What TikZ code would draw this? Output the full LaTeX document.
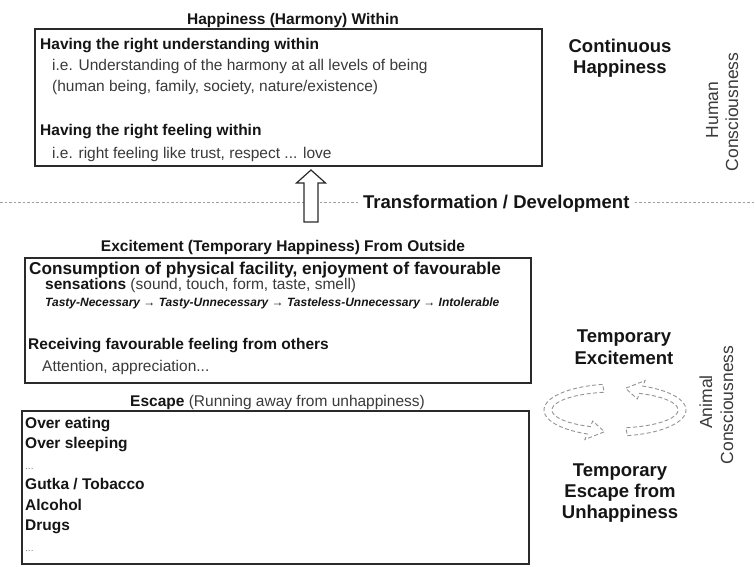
\documentclass[tikz,border=0pt]{standalone}
\usepackage{fontspec}
\setmainfont{Liberation Sans}
\definecolor{boxc}{HTML}{2A2A2A}
\definecolor{txt}{HTML}{151515}
\definecolor{txtb}{HTML}{3A3A3A}
\begin{document}
\begin{tikzpicture}[x=1pt,y=-1pt,
  box/.style={draw=boxc, line width=1.3pt, inner sep=0pt, outer sep=0pt, anchor=north west},
  bt/.style={anchor=base west, inner sep=0pt, text=txt, font=\bfseries\fontsize{15.5}{18}\selectfont},
  rt/.style={anchor=base west, inner sep=0pt, text=txtb, font=\fontsize{15.5}{18}\selectfont},
  head/.style={anchor=base, inner sep=0pt, text=txt, font=\bfseries\fontsize{15.5}{18}\selectfont},
  big/.style={anchor=base, inner sep=0pt, text=txt, font=\bfseries\fontsize{18.5}{21}\selectfont},
  side/.style={anchor=base, inner sep=0pt, rotate=90, text=txtb, font=\fontsize{17.5}{20}\selectfont},
  dots/.style={anchor=base west, inner sep=0pt, text=gray, font=\fontsize{10}{12}\selectfont},
  dsh/.style={draw=gray!75, dash pattern=on 2.5pt off 2pt, line width=0.8pt},
  cyc/.style={draw=gray!85, dash pattern=on 4pt off 2.5pt, line width=0.9pt},
  hollow/.style={draw=boxc, line width=1.2pt, fill=white}
]
\useasboundingbox[fill=white] (0,0) rectangle (755,567);

% dashed separator
\coordinate (dl) at (0,202);
\coordinate (dr) at (755,202);
\draw[dsh] (dl) -- (dr);

% ---------- top box ----------
\node[head] (h1) at (293,25) {Happiness (Harmony) Within};
\node[box, minimum width=507pt, minimum height=137pt] (b1) at (35,29) {};
\node[bt] (u1) at (40,50) {Having the right understanding within};
\node[rt] (u2) at (52,71) {i.e. Understanding of the harmony at all levels of being};
\node[rt] (u3) at (52,92) {(human being, family, society, nature/existence)};
\node[bt] (f1) at (40,136) {Having the right feeling within};
\node[rt] (f2) at (52,158) {i.e. right feeling like trust, respect ... love};

\node[big] (ch1) at (620,53) {Continuous};
\node[big] (ch2) at (620,74) {Happiness};
\node[side] (hc1) at (718,110) {Human};
\node[side] (hc2) at (738,112) {Consciousness};

% transformation arrow
\draw[hollow] (311,170) -- (325.5,183) -- (318,183) -- (318,222) -- (304,222) -- (304,183) -- (296.5,183) -- cycle;
\node[big, anchor=base west, fill=white, inner xsep=5pt, inner ysep=3pt] (tr) at (358,208) {Transformation / Development};

% ---------- middle box ----------
\node[head] (h2) at (283,251) {Excitement (Temporary Happiness) From Outside};
\node[box, minimum width=506pt, minimum height=125pt] (b2) at (25,258) {};
\node[bt, font=\bfseries\fontsize{17.2}{18}\selectfont] (c1) at (29,274) {Consumption of physical facility, enjoyment of favourable};
\node[rt] (c2) at (45,289) {\textbf{\textcolor{txt}{sensations}} (sound, touch, form, taste, smell)};
\node[bt, font=\bfseries\itshape\fontsize{12}{14}\selectfont] (c3) at (45,306) {Tasty-Necessary → Tasty-Unnecessary → Tasteless-Unnecessary → Intolerable};
\node[bt] (r1) at (28,349) {Receiving favourable feeling from others};
\node[rt] (r2) at (42,371) {Attention, appreciation...};

% ---------- bottom box ----------
\node[rt, text=txt] (h3) at (130,406) {\textbf{Escape} \textcolor{txtb}{(Running away from unhappiness)}};
\node[box, minimum width=507pt, minimum height=153pt] (b3) at (22,411) {};
\node[bt] (e1) at (25,428) {Over eating};
\node[bt] (e2) at (25,448.5) {Over sleeping};
\node[dots] (e3) at (25,469) {...};
\node[bt] (e4) at (25,489.5) {Gutka / Tobacco};
\node[bt] (e5) at (25,510) {Alcohol};
\node[bt] (e6) at (25,530.5) {Drugs};
\node[dots] (e7) at (25,551) {...};

% ---------- cycle ----------
\node[big] (te1) at (624,342) {Temporary};
\node[big] (te2) at (624,364) {Excitement};
\node[big] (ts1) at (620,476) {Temporary};
\node[big] (ts2) at (620,497) {Escape from};
\node[big] (ts3) at (620,518) {Unhappiness};
\node[side] (ac1) at (712,402) {Animal};
\node[side] (ac2) at (733,405) {Consciousness};

\draw[cyc] plot[domain=260:113,samples=40,variable=\t] ({615+71*cos(\t)},{410+26*sin(\t)})
  -- ({615+77*cos(113)},{410+32*sin(113)})
  -- ({615+67*cos(99)},{410+22*sin(99)})
  -- ({615+57*cos(113)},{410+12*sin(113)})
  -- plot[domain=113:260,samples=40,variable=\t] ({615+63*cos(\t)},{410+18*sin(\t)})
  -- cycle;
\draw[cyc] plot[domain=80:-67,samples=40,variable=\t] ({615+71*cos(\t)},{410+26*sin(\t)})
  -- ({615+77*cos(-67)},{410+32*sin(-67)})
  -- ({615+67*cos(-81)},{410+22*sin(-81)})
  -- ({615+57*cos(-67)},{410+12*sin(-67)})
  -- plot[domain=-67:80,samples=40,variable=\t] ({615+63*cos(\t)},{410+18*sin(\t)})
  -- cycle;
\end{tikzpicture}
\end{document}
